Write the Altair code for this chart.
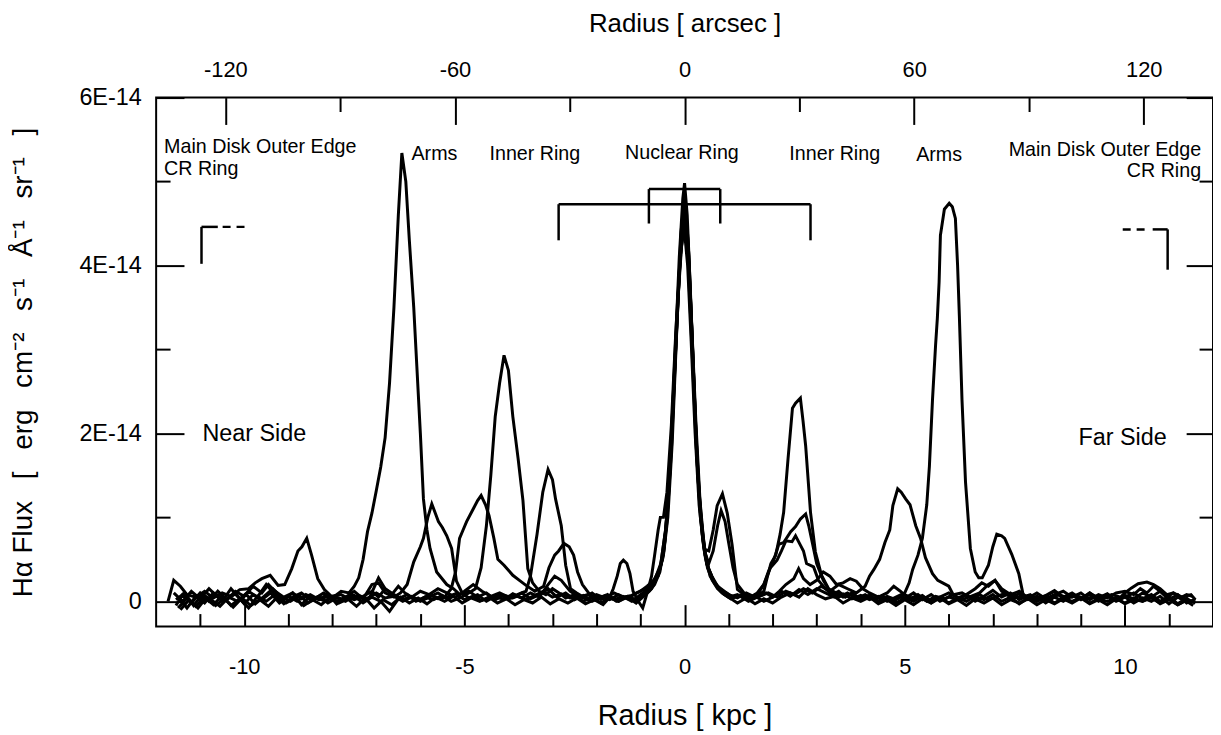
import altair as alt
import pandas as pd

# ---------------- data (radius in kpc, flux in units of 1E-14) ----------------
KPC_PER_ARCSEC = 0.0869
X_DOMAIN = [-12, 12]
Y_DOMAIN = [-0.3, 6.0]

KPC_MAJOR = [-10, -5, 0, 5, 10]
KPC_MINOR = [-11, -9, -8, -7, -6, -4, -3, -2, -1, 1, 2, 3, 4, 6, 7, 8, 9, 11]
ARCSEC_MAJOR = [-120, -60, 0, 60, 120]
ARCSEC_MINOR = [-150, -90, -30, 30, 90, 150]
FLUX_MAJOR = [0, 2, 4, 6]
FLUX_MINOR = [1, 3, 5]

CUT_1 = [(-11.73,0.00),(-11.6,0.25),(-11.45,0.18),(-11.3,0.08),(-11.1,0.05),(-10.9,0.12),(-10.7,0.04),(-10.5,0.10),(-10.3,0.06),(-10.1,0.14),(-9.9,0.15),(-9.75,0.22),(-9.6,0.27),(-9.41,0.31),(-9.23,0.19),(-9.08,0.2),(-8.92,0.39),(-8.78,0.6),(-8.69,0.65),(-8.58,0.75),(-8.47,0.55),(-8.33,0.27),(-8.18,0.14),(-8.02,0.06),(-7.8,0.08),(-7.6,0.02),(-7.4,0.07),(-7.2,0.03),(-7.0,0.1),(-6.8,0.04),(-6.6,0.06),(-6.4,0.0),(-6.2,0.05),(-6.0,0.02),(-5.8,0.08),(-5.6,0.03),(-5.4,0.05),(-5.2,0.09),(-5.0,0.02),(-4.8,0.06),(-4.6,0.01),(-4.4,0.05),(-4.2,0.08),(-4.0,0.03),(-3.8,0.06),(-3.6,0.02),(-3.4,0.07),(-3.2,0.12),(-3.0,0.05),(-2.8,0.09),(-2.6,0.04),(-2.4,0.06),(-2.2,0.02),(-2.0,0.08),(-1.8,0.04),(-1.6,0.1),(-1.4,0.05),(-1.2,0.07),(-1.0,0.12),(-0.85,0.18),(-0.7,0.25),(-0.55,0.4),(-0.42,0.9),(-0.32,1.7),(-0.22,2.9),(-0.12,4.1),(-0.04,4.8),(0.0,4.98),(0.06,4.6),(0.14,3.6),(0.22,2.5),(0.3,1.5),(0.4,0.8),(0.5,0.45),(0.62,0.3),(0.75,0.18),(0.9,0.12),(1.1,0.05),(1.3,0.08),(1.5,0.03),(1.7,0.06),(1.9,0.1),(2.1,0.05),(2.3,0.12),(2.5,0.08),(2.7,0.15),(2.9,0.1),(3.1,0.18),(3.3,0.12),(3.5,0.2),(3.7,0.15),(3.9,0.1),(4.1,0.18),(4.2,0.3),(4.3,0.38),(4.43,0.5),(4.55,0.7),(4.66,0.85),(4.73,1.14),(4.84,1.34),(4.92,1.3),(5.02,1.22),(5.12,1.15),(5.25,0.9),(5.36,0.75),(5.47,0.52),(5.63,0.33),(5.75,0.25),(5.86,0.22),(6.0,0.18),(6.1,0.08),(6.3,0.1),(6.5,0.04),(6.7,0.08),(6.9,0.02),(7.1,0.06),(7.3,0.1),(7.5,0.04),(7.7,0.07),(7.9,0.02),(8.1,0.06),(8.3,0.03),(8.5,0.08),(8.7,0.04),(8.9,0.07),(9.1,0.02),(9.3,0.06),(9.5,0.04),(9.7,0.08),(9.9,0.05),(10.0,0.1),(10.15,0.16),(10.3,0.21),(10.5,0.23),(10.65,0.2),(10.8,0.15),(10.95,0.08),(11.1,0.1),(11.25,0.04),(11.4,0.08),(11.53,0.06)]

CUT_2 = [(-11.55,-0.05),(-11.4,0.08),(-11.2,-0.02),(-11.0,0.1),(-10.8,0.0),(-10.6,0.12),(-10.4,0.02),(-10.2,0.09),(-10.0,-0.03),(-9.8,0.08),(-9.6,0.02),(-9.4,0.1),(-9.2,-0.02),(-9.0,0.06),(-8.8,0.0),(-8.6,0.08),(-8.4,0.03),(-8.2,0.1),(-8.0,0.04),(-7.8,0.12),(-7.62,0.1),(-7.5,0.18),(-7.4,0.28),(-7.3,0.5),(-7.2,0.83),(-7.1,1.05),(-7.0,1.32),(-6.9,1.6),(-6.8,1.95),(-6.7,2.6),(-6.6,3.5),(-6.5,4.6),(-6.42,5.34),(-6.33,5.0),(-6.25,4.3),(-6.15,3.5),(-6.08,2.8),(-6.0,2.0),(-5.93,1.22),(-5.85,0.85),(-5.78,0.63),(-5.63,0.35),(-5.4,0.2),(-5.25,0.15),(-5.1,0.08),(-4.9,0.12),(-4.7,0.05),(-4.5,0.1),(-4.3,0.02),(-4.1,0.07),(-3.9,0.04),(-3.7,0.1),(-3.5,0.03),(-3.3,0.08),(-3.1,0.15),(-2.9,0.05),(-2.7,0.1),(-2.5,0.02),(-2.3,0.07),(-2.1,0.0),(-1.9,0.05),(-1.7,0.02),(-1.5,0.08),(-1.3,0.03),(-1.1,0.1),(-0.9,0.15),(-0.75,0.2),(-0.6,0.3),(-0.48,0.55),(-0.38,1.0),(-0.28,1.9),(-0.18,3.2),(-0.08,4.4),(0.0,4.8),(0.08,4.3),(0.16,3.3),(0.25,2.1),(0.33,1.3),(0.42,0.75),(0.52,0.42),(0.65,0.25),(0.8,0.15),(1.0,0.08),(1.2,0.04),(1.4,0.1),(1.6,0.05),(1.8,0.12),(1.87,0.27),(1.96,0.45),(2.07,0.55),(2.17,0.8),(2.25,1.06),(2.35,1.7),(2.45,2.3),(2.52,2.36),(2.63,2.42),(2.69,2.15),(2.75,1.85),(2.86,1.06),(2.97,0.59),(3.11,0.31),(3.27,0.15),(3.45,0.1),(3.6,0.05),(3.8,0.09),(4.0,0.03),(4.2,0.07),(4.4,0.0),(4.6,0.06),(4.8,0.02),(5.0,0.08),(5.2,0.03),(5.4,0.07),(5.6,-0.02),(5.8,0.05),(6.0,0.1),(6.2,0.04),(6.4,0.08),(6.6,0.0),(6.8,0.06),(7.0,0.13),(7.2,0.05),(7.4,0.1),(7.6,0.02),(7.8,0.07),(8.0,0.0),(8.2,0.06),(8.4,0.12),(8.6,0.03),(8.8,0.08),(9.0,0.02),(9.2,0.1),(9.4,0.04),(9.6,0.09),(9.8,0.01),(10.0,0.07),(10.2,0.03),(10.4,0.1),(10.6,0.05),(10.8,0.12),(11.0,0.02),(11.2,0.08),(11.4,-0.02),(11.6,0.03)]

CUT_3 = [(-11.5,0.05),(-11.3,-0.08),(-11.1,0.06),(-10.9,-0.02),(-10.7,0.1),(-10.5,0.0),(-10.3,0.15),(-10.1,0.03),(-9.9,0.12),(-9.7,0.05),(-9.5,0.2),(-9.3,0.08),(-9.1,0.02),(-8.9,0.1),(-8.7,-0.04),(-8.5,0.06),(-8.3,0.02),(-8.1,0.09),(-7.9,-0.03),(-7.7,0.05),(-7.5,0.12),(-7.3,0.03),(-7.1,0.2),(-6.95,0.22),(-6.8,0.1),(-6.6,0.05),(-6.45,0.1),(-6.3,0.2),(-6.15,0.47),(-6.0,0.65),(-5.93,0.75),(-5.83,1.0),(-5.74,1.16),(-5.66,1.05),(-5.59,0.95),(-5.5,0.88),(-5.4,0.78),(-5.29,0.63),(-5.18,0.24),(-5.05,0.1),(-4.9,0.04),(-4.7,0.08),(-4.5,0.0),(-4.3,0.06),(-4.1,0.02),(-3.9,0.09),(-3.7,0.04),(-3.5,0.1),(-3.3,0.05),(-3.1,0.2),(-2.95,0.3),(-2.8,0.25),(-2.6,0.12),(-2.4,0.05),(-2.2,0.08),(-2.0,0.03),(-1.8,0.07),(-1.6,0.02),(-1.4,0.06),(-1.2,0.0),(-1.0,0.05),(-0.85,0.12),(-0.7,0.2),(-0.58,0.35),(-0.47,0.6),(-0.37,1.2),(-0.27,2.2),(-0.17,3.4),(-0.07,4.4),(0.02,4.7),(0.1,4.1),(0.18,3.0),(0.27,1.8),(0.36,1.0),(0.46,0.55),(0.58,0.3),(0.7,0.2),(0.85,0.1),(1.0,0.05),(1.2,0.08),(1.4,0.02),(1.6,0.06),(1.8,0.0),(2.0,0.05),(2.2,0.12),(2.4,0.06),(2.6,0.14),(2.8,0.08),(3.0,0.15),(3.2,0.1),(3.4,0.05),(3.6,0.09),(3.8,0.03),(4.0,0.07),(4.2,0.02),(4.4,0.06),(4.6,0.0),(4.8,0.05),(5.0,0.1),(5.1,0.22),(5.18,0.38),(5.3,0.55),(5.4,0.75),(5.5,1.15),(5.56,1.61),(5.63,2.4),(5.7,3.05),(5.74,3.37),(5.78,3.8),(5.81,4.36),(5.9,4.67),(6.01,4.74),(6.08,4.7),(6.15,4.56),(6.2,4.0),(6.24,3.4),(6.3,2.4),(6.38,1.42),(6.49,0.63),(6.6,0.35),(6.68,0.28),(6.76,0.28),(6.9,0.43),(7.0,0.65),(7.09,0.8),(7.2,0.78),(7.27,0.75),(7.43,0.56),(7.59,0.33),(7.7,0.05),(7.85,0.08),(8.0,0.02),(8.2,0.07),(8.4,0.13),(8.6,0.05),(8.8,0.1),(9.0,0.03),(9.2,0.08),(9.4,0.0),(9.6,0.06),(9.8,0.02),(10.0,0.05),(10.2,-0.02),(10.4,0.04),(10.6,0.0),(10.8,0.06),(11.0,-0.03),(11.2,0.05),(11.4,0.0),(11.55,-0.05)]

CUT_4 = [(-11.55,0.02),(-11.35,0.1),(-11.15,-0.05),(-10.95,0.08),(-10.75,0.02),(-10.55,-0.06),(-10.35,0.05),(-10.15,0.0),(-9.95,0.08),(-9.75,-0.03),(-9.55,0.06),(-9.35,0.15),(-9.15,0.05),(-8.95,0.0),(-8.75,0.07),(-8.55,-0.02),(-8.35,0.04),(-8.15,0.0),(-7.95,0.06),(-7.75,0.02),(-7.55,0.08),(-7.35,0.0),(-7.15,0.05),(-6.95,0.28),(-6.8,0.15),(-6.6,0.08),(-6.4,0.02),(-6.2,0.06),(-6.0,0.0),(-5.8,0.05),(-5.6,0.1),(-5.45,0.05),(-5.3,0.15),(-5.2,0.35),(-5.11,0.75),(-5.03,0.85),(-4.95,0.95),(-4.8,1.1),(-4.7,1.2),(-4.62,1.26),(-4.52,1.15),(-4.44,1.02),(-4.33,0.75),(-4.24,0.5),(-4.1,0.43),(-3.9,0.31),(-3.75,0.25),(-3.6,0.19),(-3.4,0.12),(-3.2,0.18),(-3.08,0.4),(-2.95,0.55),(-2.86,0.6),(-2.74,0.69),(-2.62,0.65),(-2.52,0.55),(-2.43,0.35),(-2.32,0.2),(-2.15,0.08),(-1.95,0.03),(-1.75,0.08),(-1.55,0.0),(-1.35,0.05),(-1.15,0.02),(-0.95,0.1),(-0.8,0.18),(-0.66,0.28),(-0.54,0.45),(-0.43,0.85),(-0.33,1.6),(-0.23,2.7),(-0.13,3.8),(-0.04,4.5),(0.02,4.6),(0.1,4.0),(0.19,2.9),(0.28,1.75),(0.37,1.0),(0.46,0.62),(0.55,0.6),(0.65,0.85),(0.74,1.14),(0.86,1.28),(0.97,1.05),(1.08,0.67),(1.2,0.14),(1.35,0.08),(1.5,0.02),(1.65,0.08),(1.8,0.2),(1.9,0.35),(2.03,0.5),(2.14,0.68),(2.25,0.7),(2.41,0.83),(2.52,0.89),(2.63,0.98),(2.75,1.04),(2.82,0.9),(2.9,0.7),(3.0,0.45),(3.15,0.25),(3.3,0.12),(3.5,0.05),(3.7,0.1),(3.9,0.03),(4.1,0.08),(4.3,0.02),(4.5,0.06),(4.7,0.0),(4.9,0.05),(5.1,0.02),(5.3,0.08),(5.5,0.0),(5.7,0.06),(5.9,0.03),(6.1,0.08),(6.3,0.02),(6.5,0.06),(6.7,0.1),(6.9,0.2),(7.05,0.25),(7.2,0.12),(7.4,0.05),(7.6,0.09),(7.8,0.02),(8.0,0.06),(8.2,-0.02),(8.4,0.05),(8.6,0.0),(8.8,0.07),(9.0,0.03),(9.2,0.1),(9.4,0.02),(9.6,0.07),(9.8,0.0),(10.0,0.05),(10.2,0.1),(10.4,0.03),(10.6,0.08),(10.8,0.0),(11.0,0.06),(11.2,-0.03),(11.4,0.04),(11.5,0.0)]

CUT_5 = [(-11.5,-0.08),(-11.3,0.04),(-11.1,-0.06),(-10.9,0.05),(-10.7,-0.04),(-10.5,0.07),(-10.3,-0.05),(-10.1,0.03),(-9.9,-0.08),(-9.7,0.06),(-9.5,0.0),(-9.3,0.08),(-9.1,-0.03),(-8.9,0.05),(-8.7,0.1),(-8.5,0.02),(-8.3,0.06),(-8.1,-0.02),(-7.9,0.04),(-7.7,0.0),(-7.5,0.07),(-7.3,-0.02),(-7.1,0.05),(-6.9,0.0),(-6.7,-0.12),(-6.5,0.03),(-6.3,0.08),(-6.1,0.0),(-5.9,0.05),(-5.7,0.02),(-5.5,0.07),(-5.3,0.0),(-5.1,0.04),(-4.9,0.1),(-4.75,0.15),(-4.62,0.4),(-4.5,0.9),(-4.4,1.5),(-4.3,2.2),(-4.2,2.6),(-4.1,2.93),(-4.0,2.75),(-3.9,2.2),(-3.78,1.7),(-3.67,1.2),(-3.56,0.39),(-3.45,0.22),(-3.3,0.12),(-3.15,0.08),(-3.0,0.15),(-2.85,0.1),(-2.7,0.04),(-2.5,0.08),(-2.3,0.0),(-2.1,0.05),(-1.9,-0.02),(-1.7,0.04),(-1.5,0.0),(-1.3,0.06),(-1.1,0.02),(-0.9,0.08),(-0.75,0.15),(-0.62,0.3),(-0.5,0.5),(-0.4,0.95),(-0.3,1.8),(-0.2,3.0),(-0.1,4.1),(0.0,4.5),(0.08,4.05),(0.17,3.0),(0.26,1.9),(0.35,1.1),(0.45,0.6),(0.55,0.45),(0.65,0.6),(0.75,0.9),(0.83,1.08),(0.92,0.95),(1.0,0.7),(1.1,0.4),(1.2,0.2),(1.35,0.1),(1.5,0.05),(1.65,0.1),(1.8,0.2),(1.95,0.4),(2.1,0.49),(2.2,0.6),(2.3,0.72),(2.44,0.71),(2.52,0.78),(2.63,0.67),(2.7,0.6),(2.77,0.45),(2.93,0.41),(3.04,0.25),(3.2,0.15),(3.35,0.08),(3.5,0.12),(3.65,0.05),(3.8,0.1),(4.0,0.02),(4.2,0.07),(4.4,0.0),(4.6,0.05),(4.8,-0.02),(5.0,0.04),(5.2,0.0),(5.4,0.06),(5.6,0.01),(5.8,0.05),(6.0,-0.02),(6.2,0.04),(6.4,0.0),(6.6,0.06),(6.8,0.02),(7.0,0.08),(7.2,0.0),(7.4,0.05),(7.6,-0.03),(7.8,0.04),(8.0,0.0),(8.2,0.05),(8.4,-0.02),(8.6,0.04),(8.8,0.0),(9.0,0.05),(9.2,-0.02),(9.4,0.03),(9.6,0.0),(9.8,0.04),(10.0,-0.03),(10.2,0.02),(10.4,0.0),(10.6,0.04),(10.8,-0.02),(11.0,0.03),(11.2,-0.04),(11.4,0.02),(11.6,-0.02)]

CUT_6 = [(-11.6,0.1),(-11.4,0.0),(-11.2,0.12),(-11.0,0.03),(-10.8,0.15),(-10.6,0.05),(-10.4,0.02),(-10.2,0.12),(-10.0,0.06),(-9.8,0.18),(-9.6,0.1),(-9.45,0.2),(-9.3,0.12),(-9.1,0.05),(-8.9,0.1),(-8.7,0.03),(-8.5,0.08),(-8.3,0.02),(-8.1,0.06),(-7.9,0.0),(-7.7,0.05),(-7.5,0.02),(-7.3,0.06),(-7.1,0.12),(-6.95,0.05),(-6.8,0.15),(-6.65,0.08),(-6.5,0.18),(-6.35,0.1),(-6.2,0.05),(-6.0,0.12),(-5.8,0.08),(-5.6,0.15),(-5.4,0.1),(-5.2,0.05),(-5.0,0.12),(-4.8,0.2),(-4.6,0.12),(-4.4,0.06),(-4.2,0.1),(-4.0,0.05),(-3.8,0.08),(-3.6,0.12),(-3.5,0.3),(-3.35,0.8),(-3.22,1.3),(-3.1,1.57),(-3.0,1.45),(-2.93,1.22),(-2.8,0.9),(-2.7,0.43),(-2.59,0.15),(-2.45,0.1),(-2.3,0.05),(-2.1,0.1),(-1.9,0.02),(-1.7,0.06),(-1.5,0.0),(-1.3,0.05),(-1.1,-0.02),(-0.95,0.05),(-0.8,0.12),(-0.68,0.2),(-0.56,0.35),(-0.45,0.7),(-0.35,1.4),(-0.25,2.5),(-0.15,3.6),(-0.06,4.3),(0.0,4.4),(0.07,4.0),(0.15,3.1),(0.24,2.0),(0.33,1.15),(0.42,0.7),(0.52,0.4),(0.63,0.25),(0.75,0.15),(0.9,0.08),(1.05,0.03),(1.25,0.07),(1.45,0.0),(1.65,0.05),(1.85,0.1),(2.0,0.05),(2.15,0.12),(2.3,0.2),(2.48,0.27),(2.59,0.39),(2.7,0.27),(2.85,0.2),(3.0,0.25),(3.15,0.35),(3.3,0.3),(3.45,0.2),(3.6,0.22),(3.76,0.27),(3.9,0.24),(4.05,0.15),(4.2,0.1),(4.4,0.05),(4.6,0.1),(4.75,0.18),(4.9,0.12),(5.05,0.05),(5.2,0.1),(5.4,0.02),(5.6,0.08),(5.8,0.0),(6.0,0.05),(6.2,0.02),(6.4,0.08),(6.6,0.15),(6.75,0.22),(6.9,0.18),(7.05,0.25),(7.2,0.15),(7.4,0.08),(7.6,0.12),(7.8,0.04),(8.0,0.1),(8.2,0.03),(8.4,0.08),(8.6,0.12),(8.8,0.05),(9.0,0.1),(9.2,0.02),(9.4,0.08),(9.6,0.04),(9.8,0.1),(10.0,0.12),(10.2,0.08),(10.35,0.15),(10.5,0.1),(10.65,0.18),(10.8,0.12),(10.95,0.05),(11.1,0.1),(11.3,0.05),(11.5,0.08),(11.6,0.02)]

CUT_7 = [(-11.45,-0.1),(-11.25,0.02),(-11.05,-0.08),(-10.85,0.05),(-10.65,-0.05),(-10.45,0.03),(-10.25,-0.07),(-10.05,0.04),(-9.85,-0.05),(-9.65,0.02),(-9.45,-0.06),(-9.25,0.05),(-9.05,-0.02),(-8.85,0.04),(-8.65,-0.05),(-8.45,0.02),(-8.25,-0.04),(-8.05,0.05),(-7.85,-0.02),(-7.65,0.03),(-7.45,-0.06),(-7.25,0.04),(-7.05,-0.08),(-6.85,0.02),(-6.65,-0.04),(-6.45,0.05),(-6.25,-0.02),(-6.05,0.04),(-5.85,-0.03),(-5.65,0.05),(-5.45,0.0),(-5.25,0.06),(-5.05,-0.02),(-4.85,0.04),(-4.65,0.0),(-4.45,0.05),(-4.25,-0.02),(-4.05,0.03),(-3.85,-0.04),(-3.65,0.02),(-3.45,-0.02),(-3.25,0.05),(-3.05,-0.03),(-2.85,0.03),(-2.65,-0.02),(-2.45,0.04),(-2.25,-0.03),(-2.05,0.02),(-1.85,-0.04),(-1.7,0.05),(-1.62,0.15),(-1.53,0.3),(-1.46,0.45),(-1.39,0.49),(-1.31,0.45),(-1.24,0.33),(-1.17,0.12),(-1.05,0.0),(-0.95,-0.08),(-0.85,0.1),(-0.75,0.3),(-0.68,0.55),(-0.6,0.85),(-0.55,1.0),(-0.48,1.0),(-0.4,1.3),(-0.3,2.1),(-0.2,3.2),(-0.1,4.1),(0.0,4.55),(0.08,4.2),(0.17,3.2),(0.26,2.1),(0.35,1.2),(0.45,0.62),(0.55,0.38),(0.68,0.22),(0.82,0.12),(1.0,0.05),(1.2,-0.02),(1.4,0.04),(1.6,-0.03),(1.8,0.03),(2.0,-0.02),(2.2,0.05),(2.4,0.1),(2.6,0.05),(2.8,0.15),(3.0,0.08),(3.2,0.03),(3.4,0.06),(3.6,-0.02),(3.8,0.04),(4.0,0.0),(4.2,0.05),(4.4,-0.03),(4.6,0.02),(4.8,-0.05),(5.0,0.02),(5.2,-0.04),(5.4,0.03),(5.6,-0.02),(5.8,0.04),(6.0,-0.03),(6.2,0.02),(6.4,-0.05),(6.6,0.03),(6.8,-0.02),(7.0,0.04),(7.2,-0.04),(7.4,0.02),(7.6,-0.02),(7.8,0.03),(8.0,-0.04),(8.2,0.02),(8.4,-0.03),(8.6,0.03),(8.8,-0.02),(9.0,0.04),(9.2,-0.03),(9.4,0.02),(9.6,-0.04),(9.8,0.03),(10.0,-0.02),(10.2,0.04),(10.4,0.0),(10.6,0.05),(10.8,-0.03),(11.0,0.02),(11.2,-0.04),(11.35,0.0)]

CUTS = [CUT_1, CUT_2, CUT_3, CUT_4, CUT_5, CUT_6, CUT_7]

# region brackets: (r, f, r2, f2)
BRACKETS_SOLID = [
    (-0.81, 4.91, 0.81, 4.91), (-0.81, 4.91, -0.81, 4.50), (0.81, 4.91, 0.81, 4.50),
    (-2.86, 4.73, 2.86, 4.73), (-2.86, 4.73, -2.86, 4.30), (2.86, 4.73, 2.86, 4.30),
    (-10.97, 4.46, -10.97, 4.02), (-10.97, 4.46, -10.60, 4.46),
    (10.97, 4.43, 10.97, 3.95), (10.97, 4.43, 10.63, 4.43),
]
BRACKETS_DASHED = [(-10.49, 4.46, -9.97, 4.46), (9.95, 4.43, 10.52, 4.43)]

LABELS_LEFT = [("Main Disk Outer Edge", -11.82, 5.41), ("CR Ring", -11.82, 5.15)]
LABELS_CENTER = [("Arms", -5.68, 5.33), ("Inner Ring", -3.40, 5.33), ("Nuclear Ring", -0.06, 5.34),
                 ("Inner Ring", 3.41, 5.33), ("Arms", 5.78, 5.32)]
LABELS_RIGHT = [("Main Disk Outer Edge", 11.73, 5.38), ("CR Ring", 11.73, 5.12)]
SIDE_LEFT = [("Near Side", -10.95, 1.99)]
SIDE_RIGHT = [("Far Side", 10.95, 1.95)]

Y_TITLE = "H\u03b1 Flux\u2002 [\u2002 erg\u2002 cm\u207b\u00b2\u2002 s\u207b\u00b9\u2002 \u00c5\u207b\u00b9\u2002 sr\u207b\u00b9\u2002 ]"

# ---------------- build tables ----------------
rows = []
for i, cut in enumerate(CUTS):
    for k, (r, f) in enumerate(cut):
        rows.append({"cut": f"cut{i+1}", "r": r, "f": f, "o": k})
df_lines = pd.DataFrame(rows)
df_solid = pd.DataFrame(BRACKETS_SOLID, columns=["r", "f", "r2", "f2"])
df_dash = pd.DataFrame(BRACKETS_DASHED, columns=["r", "f", "r2", "f2"])
df_tl = pd.DataFrame(LABELS_LEFT, columns=["t", "r", "f"])
df_tc = pd.DataFrame(LABELS_CENTER, columns=["t", "r", "f"])
df_tr = pd.DataFrame(LABELS_RIGHT, columns=["t", "r", "f"])
df_sl = pd.DataFrame(SIDE_LEFT, columns=["t", "r", "f"])
df_sr = pd.DataFrame(SIDE_RIGHT, columns=["t", "r", "f"])

FONT = "Liberation Sans"
xs = alt.Scale(domain=X_DOMAIN, nice=False, zero=False)
ys = alt.Scale(domain=Y_DOMAIN, nice=False, zero=False)


def inner_axis(orient, values, size, **kw):
    return alt.Axis(orient=orient, values=values, tickSize=size, offset=-size,
                    domain=False, grid=False, ticks=True, tickColor="black",
                    tickWidth=2, labelFont=FONT, labelColor="black",
                    titleFont=FONT, titleColor="black", titleFontWeight="normal", **kw)


ax_bottom_major = inner_axis("bottom", KPC_MAJOR, 22, labels=True, labelFontSize=22,
                             labelPadding=30, labelExpr="'' + datum.value",
                             title="Radius [ kpc ]", titleFontSize=29, titlePadding=25)
ax_bottom_minor = inner_axis("bottom", KPC_MINOR, 13, labels=False, title=None)
ax_top_major = inner_axis("top", [a * KPC_PER_ARCSEC for a in ARCSEC_MAJOR], 27, labels=True,
                          labelFontSize=22, labelPadding=16,
                          labelExpr=f"'' + round(datum.value / {KPC_PER_ARCSEC})",
                          title="Radius [ arcsec ]", titleFontSize=26, titlePadding=22)
ax_top_minor = inner_axis("top", [a * KPC_PER_ARCSEC for a in ARCSEC_MINOR], 14,
                          labels=False, title=None)
ax_left_major = inner_axis("left", FLUX_MAJOR, 28, labels=True, labelFontSize=23.5,
                           labelPadding=15,
                           labelExpr="datum.value == 0 ? '0' : datum.value + 'E-14'",
                           title=Y_TITLE, titleFontSize=28, titlePadding=42)
ax_left_minor = inner_axis("left", FLUX_MINOR, 14, labels=False, title=None)
ax_right_major = inner_axis("right", FLUX_MAJOR, 27, labels=False, title=None)
ax_right_minor = inner_axis("right", FLUX_MINOR, 14, labels=False, title=None)

lines = alt.Chart(df_lines).mark_line(color="black", strokeWidth=3, clip=True).encode(
    x=alt.X("r:Q", scale=xs, axis=ax_bottom_major),
    y=alt.Y("f:Q", scale=ys, axis=ax_left_major),
    detail="cut:N",
    order="o:Q",
)

solid = alt.Chart(df_solid).mark_rule(color="black", strokeWidth=2.5).encode(
    x=alt.X("r:Q", scale=xs, axis=ax_bottom_minor),
    y=alt.Y("f:Q", scale=ys, axis=ax_left_minor),
    x2="r2:Q", y2="f2:Q",
)

dashed = alt.Chart(df_dash).mark_rule(color="black", strokeWidth=2.5, strokeDash=[8, 6]).encode(
    x=alt.X("r:Q", scale=xs, axis=ax_top_major),
    y=alt.Y("f:Q", scale=ys, axis=ax_right_major),
    x2="r2:Q", y2="f2:Q",
)


def text_layer(df, align, size, xaxis=None, yaxis=None):
    return alt.Chart(df).mark_text(align=align, baseline="middle", font=FONT,
                                   fontSize=size, color="black").encode(
        x=alt.X("r:Q", scale=xs, axis=xaxis),
        y=alt.Y("f:Q", scale=ys, axis=yaxis),
        text="t:N",
    )


t_left = text_layer(df_tl, "left", 19.8, ax_top_minor, ax_right_minor)
t_center = text_layer(df_tc, "center", 19.8)
t_right = text_layer(df_tr, "right", 19.8)
s_left = text_layer(df_sl, "left", 23.5)
s_right = text_layer(df_sr, "right", 23.5)

chart = alt.layer(lines, solid, dashed, t_left, t_center, t_right, s_left, s_right).resolve_scale(
    x="shared", y="shared"
).resolve_axis(
    x="independent", y="independent"
).properties(
    width=1063, height=532,
    autosize=alt.AutoSizeParams(type="none"),
    padding={"left": 149, "top": 88, "right": 0, "bottom": 105},
    background="white",
).configure_view(
    stroke="black", strokeWidth=2
)

chart.save("out.html", embed_options={"renderer": "svg", "actions": False})
